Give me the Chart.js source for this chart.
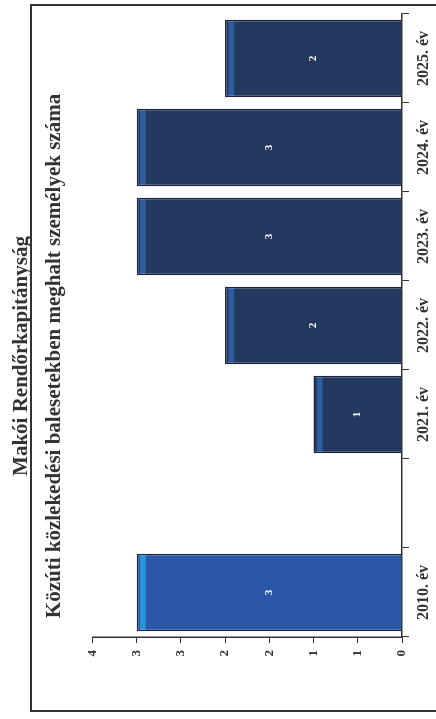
<!DOCTYPE html>
<html>
<head>
<meta charset="utf-8">
<script src="https://cdn.jsdelivr.net/npm/chart.js@4.4.1/dist/chart.umd.min.js"></script>
<style>
  html, body { margin: 0; padding: 0; background: #fff; }
  body { width: 436px; height: 719px; position: relative; overflow: hidden; }
  /* a lap el van forgatva, ugyanúgy mint a beszkennelt oldalon */
  #lap { position: absolute; left: 0; top: 719px; width: 719px; height: 436px;
         transform-origin: 0 0; transform: rotate(-90deg); overflow: hidden; }
  #keret { position: absolute; left: 7px; top: 30px; width: 708px; height: 470px;
           border: 2px solid #333; box-sizing: border-box; }
  canvas { position: absolute; left: 0; top: 0; }
</style>
</head>
<body>
<div id="lap">
  <canvas id="abra" width="719" height="436"></canvas>
  <div id="keret"></div>
</div>
<script>
let foCim = 'Makói Rendőrkapitányság'
let alCim = 'Közúti közlekedési balesetekben meghalt személyek száma'
let evek = ['2010. év', '', '2021. év', '2022. év', '2023. év', '2024. év', '2025. év']
let halottak = [3, null, 1, 2, 3, 3, 2]
let tengelyFeliratok = ['0', '1', '1', '2', '2', '3', '3', '4']

let alapSzin = ['#2a58a6', '#24395f', '#24395f', '#24395f', '#24395f', '#24395f', '#24395f']
let csikSzin = ['#2598e0', '#2d5da3', '#2d5da3', '#2d5da3', '#2d5da3', '#2d5da3', '#2d5da3']
let betu = 'Liberation Serif'

function oszlopSzin(context) {
    let chart = context.chart
    let i = context.dataIndex
    if (!chart.chartArea || halottak[i] == null) return alapSzin[i]
    let y = chart.scales.y
    let teteje = y.getPixelForValue(halottak[i])
    let alja = y.getPixelForValue(0)
    let h = alja - teteje
    let g = chart.ctx.createLinearGradient(0, teteje, 0, alja)
    g.addColorStop(0, alapSzin[i])
    g.addColorStop(3 / h, alapSzin[i])
    g.addColorStop(4 / h, csikSzin[i])
    g.addColorStop(8 / h, csikSzin[i])
    g.addColorStop(10 / h, alapSzin[i])
    g.addColorStop(1, alapSzin[i])
    return g
}

// kis fehér számok az oszlopok közepén
const ertekFelirat = {
    id: 'ertekFelirat',
    afterDatasetsDraw(chart) {
        let c = chart.ctx
        let meta = chart.getDatasetMeta(0)
        c.save()
        c.fillStyle = '#ffffff'
        c.font = 'bold 11px "' + betu + '"'
        c.textAlign = 'center'
        c.textBaseline = 'middle'
        meta.data.forEach(function(bar, i) {
            if (halottak[i] == null) return
            c.fillText(halottak[i], bar.x, (bar.y + bar.base) / 2)
        })
        c.restore()
    }
}

const ctx = document.getElementById('abra').getContext('2d')
let myChart = new Chart(ctx, {
    type: 'bar',
    data: {
        labels: evek,
        datasets: [{
            data: halottak,
            backgroundColor: oszlopSzin,
            borderColor: '#1b253f',
            borderWidth: 1.5,
            barPercentage: 0.87,
            categoryPercentage: 1
        }]
    },
    options: {
        responsive: false,
        animation: false,
        layout: { padding: { top: 0, right: 14, bottom: 0, left: 21 } },
        plugins: {
            legend: { display: false },
            tooltip: { enabled: false },
            title: {
                display: true,
                text: foCim,
                color: '#333',
                font: { family: betu, size: 21, weight: 'bold' },
                padding: { top: 9, bottom: 4 }
            },
            subtitle: {
                display: true,
                text: alCim,
                color: '#333',
                font: { family: betu, size: 21, weight: 'bold' },
                padding: { top: 4, bottom: 25 }
            }
        },
        scales: {
            x: {
                grid: { drawOnChartArea: false, tickLength: 7, color: '#333', offset: true },
                border: { color: '#333', width: 1.5 },
                ticks: { color: '#333', font: { family: betu, size: 16, weight: 'bold' }, padding: 5, maxRotation: 0, autoSkip: false },
                afterFit: function(s) { s.height = 34 }
            },
            y: {
                min: 0,
                max: 3.5,
                ticks: {
                    stepSize: 0.5,
                    color: '#333',
                    font: { family: betu, size: 13, weight: 'bold' },
                    padding: 7,
                    callback: function(v, i) { return tengelyFeliratok[i] }
                },
                grid: { drawOnChartArea: false, tickLength: 6, color: '#333' },
                border: { color: '#333', width: 1.5 },
                afterFit: function(s) { s.width = 61 }
            }
        }
    },
    plugins: [ertekFelirat]
})
</script>
</body>
</html>
